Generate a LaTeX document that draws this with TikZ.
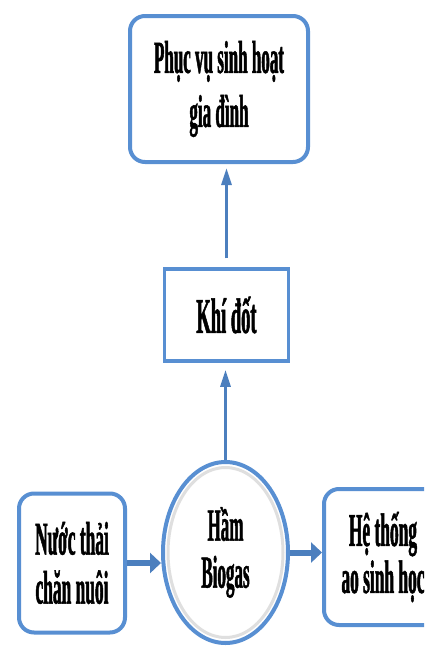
\documentclass[tikz,border=0pt]{standalone}
\usepackage{fontspec}
% narrow heavy serif used for every label
\newfontfamily\condserif{Liberation Serif}[UprightFont=* Bold, FakeStretch=0.37, FakeBold=1.0]
\usetikzlibrary{arrows.meta,shapes.geometric}
\definecolor{edgeblue}{RGB}{88,143,210}
\definecolor{arrowblue}{RGB}{76,127,190}
\begin{document}
\begin{tikzpicture}[x=1pt,y=-1pt,
  roundbox/.style={draw=edgeblue, line width=4pt, rounded corners=15pt, fill=white,
    align=center, inner sep=0pt},
  squarebox/.style={draw=edgeblue, line width=3.5pt, fill=white, align=center, inner sep=0pt},
  pitshape/.style={ellipse, draw=edgeblue, line width=4pt, fill=white, align=center, inner sep=0pt},
  uparrow/.style={draw=arrowblue, line width=3pt, -{Triangle[width=10pt,length=17pt]}},
  sidearrow/.style={draw=arrowblue, line width=6pt, -{Triangle[width=20pt,length=11pt]}}
]
\useasboundingbox (0,0) rectangle (424,646);
\clip (0,0) rectangle (424,646);

% boxes
\node[roundbox, minimum width=178pt, minimum height=146pt,
      font=\condserif\fontsize{46}{54}\selectfont] (use) at (219,89)
      {Phục vụ sinh hoạt\\gia đình};
\node[squarebox, minimum width=124pt, minimum height=92pt,
      font=\condserif\fontsize{50}{54}\selectfont] (gas) at (226.5,315) {Khí đốt};
\node[roundbox, minimum width=106pt, minimum height=139pt,
      font=\condserif\fontsize{47}{49}\selectfont] (waste) at (72,563)
      {Nước thải\\chăn nuôi};
\node[roundbox, minimum width=118pt, minimum height=136pt,
      font=\condserif\fontsize{47}{47}\selectfont] (pond) at (383,557)
      {Hệ thống\\ao sinh học};

% digester, with a soft grey ring inside its outline
\node[pitshape, minimum width=125pt, minimum height=181pt,
      font=\condserif\fontsize{46}{47}\selectfont] (pit) at (225.5,552.5)
      {Hầm\\Biogas};
\draw[gray!25, line width=3pt] (pit.center) ellipse [x radius=57.5pt, y radius=85pt];

% connectors
\draw[uparrow, shorten >=4pt, shorten <=9pt] (gas.north) -- (gas.north |- use.south);
\draw[uparrow, shorten >=7pt] (pit.north) -- (pit.north |- gas.south);
\draw[sidearrow] (waste.east) -- (waste.east -| pit.west);
\draw[sidearrow] (pit.east |- pit.center) -- (pond.west |- pit.center);
\end{tikzpicture}
\end{document}
